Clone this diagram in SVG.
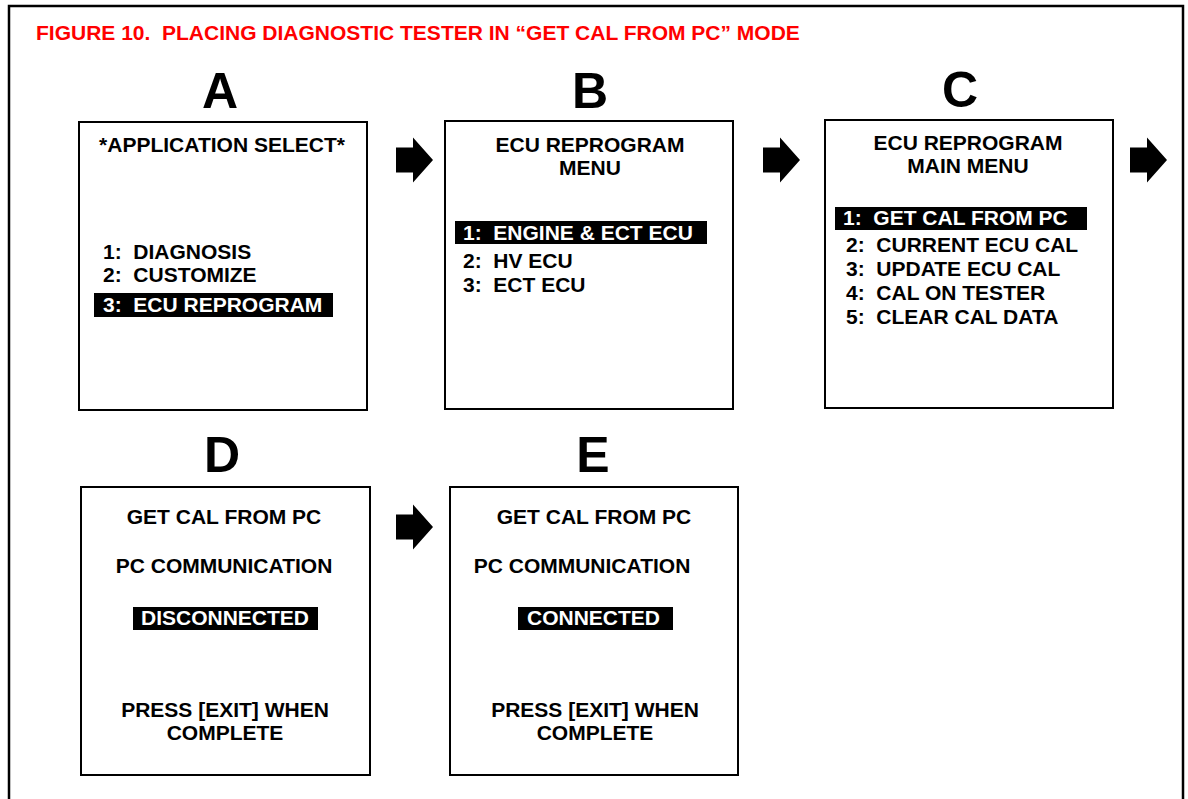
<svg xmlns="http://www.w3.org/2000/svg" width="1188" height="799" viewBox="0 0 1188 799">
<style>
text{font-family:"Liberation Sans",Arial,sans-serif;font-weight:bold;white-space:pre}
.t{font-size:21px;fill:#000}
.w{font-size:21px;fill:#fff}
.c{text-anchor:middle}
.big{font-size:50px;fill:#000;text-anchor:middle}
.title{font-size:21px;fill:#ff0000}
.box{fill:#fff;stroke:#000;stroke-width:2}
.hl{fill:#000}
</style>
<defs>
<path id="arrow" d="M0,-12.5 H17 V-22.5 L37,0 L17,22.5 V12.5 H0 Z" fill="#000"/>
</defs>
<rect width="1188" height="799" fill="#fff"/>
<rect x="9" y="6" width="1174" height="820" fill="none" stroke="#000" stroke-width="2.5"/>
<text class="title" x="36" y="40">FIGURE 10.  PLACING DIAGNOSTIC TESTER IN “GET CAL FROM PC” MODE</text>

<g id="connectors">
<use href="#arrow" x="396" y="160"/>
<use href="#arrow" x="763" y="160"/>
<use href="#arrow" x="1130" y="160"/>
<use href="#arrow" x="396" y="527"/>
</g>

<g id="nodeA">
<text class="big" x="220" y="108">A</text>
<rect class="box" x="79" y="122" width="288" height="288"/>
<text class="t c" x="222" y="152">*APPLICATION SELECT*</text>
<text class="t" x="103" y="259">1:  DIAGNOSIS</text>
<text class="t" x="103" y="282">2:  CUSTOMIZE</text>
<rect class="hl" x="94" y="293" width="239" height="24"/>
<text class="w" x="103" y="312">3:  ECU REPROGRAM</text>
</g>

<g id="nodeB">
<text class="big" x="590" y="108">B</text>
<rect class="box" x="445" y="121" width="288" height="288"/>
<text class="t c" x="590" y="152">ECU REPROGRAM</text>
<text class="t c" x="590" y="175">MENU</text>
<rect class="hl" x="455" y="221" width="252" height="23"/>
<text class="w" x="463" y="240">1:  ENGINE &amp; ECT ECU</text>
<text class="t" x="463" y="268">2:  HV ECU</text>
<text class="t" x="463" y="292">3:  ECT ECU</text>
</g>

<g id="nodeC">
<text class="big" x="960" y="107">C</text>
<rect class="box" x="825" y="120" width="288" height="288"/>
<text class="t c" x="968" y="150">ECU REPROGRAM</text>
<text class="t c" x="968" y="173">MAIN MENU</text>
<rect class="hl" x="835" y="207" width="252" height="23"/>
<text class="w" x="843" y="225">1:  GET CAL FROM PC</text>
<text class="t" x="846" y="252">2:  CURRENT ECU CAL</text>
<text class="t" x="846" y="276">3:  UPDATE ECU CAL</text>
<text class="t" x="846" y="300">4:  CAL ON TESTER</text>
<text class="t" x="846" y="324">5:  CLEAR CAL DATA</text>
</g>

<g id="nodeD">
<text class="big" x="222" y="472">D</text>
<rect class="box" x="81" y="487" width="289" height="288"/>
<text class="t c" x="224" y="524">GET CAL FROM PC</text>
<text class="t c" x="224" y="573">PC COMMUNICATION</text>
<rect class="hl" x="133" y="607" width="185" height="23"/>
<text class="w c" x="225" y="625">DISCONNECTED</text>
<text class="t c" x="225" y="717">PRESS [EXIT] WHEN</text>
<text class="t c" x="225" y="740">COMPLETE</text>
</g>

<g id="nodeE">
<text class="big" x="593" y="472">E</text>
<rect class="box" x="450" y="487" width="288" height="288"/>
<text class="t c" x="594" y="524">GET CAL FROM PC</text>
<text class="t c" x="582" y="573">PC COMMUNICATION</text>
<rect class="hl" x="518" y="607" width="155" height="23"/>
<text class="w" x="527" y="625">CONNECTED</text>
<text class="t c" x="595" y="717">PRESS [EXIT] WHEN</text>
<text class="t c" x="595" y="740">COMPLETE</text>
</g>
</svg>
